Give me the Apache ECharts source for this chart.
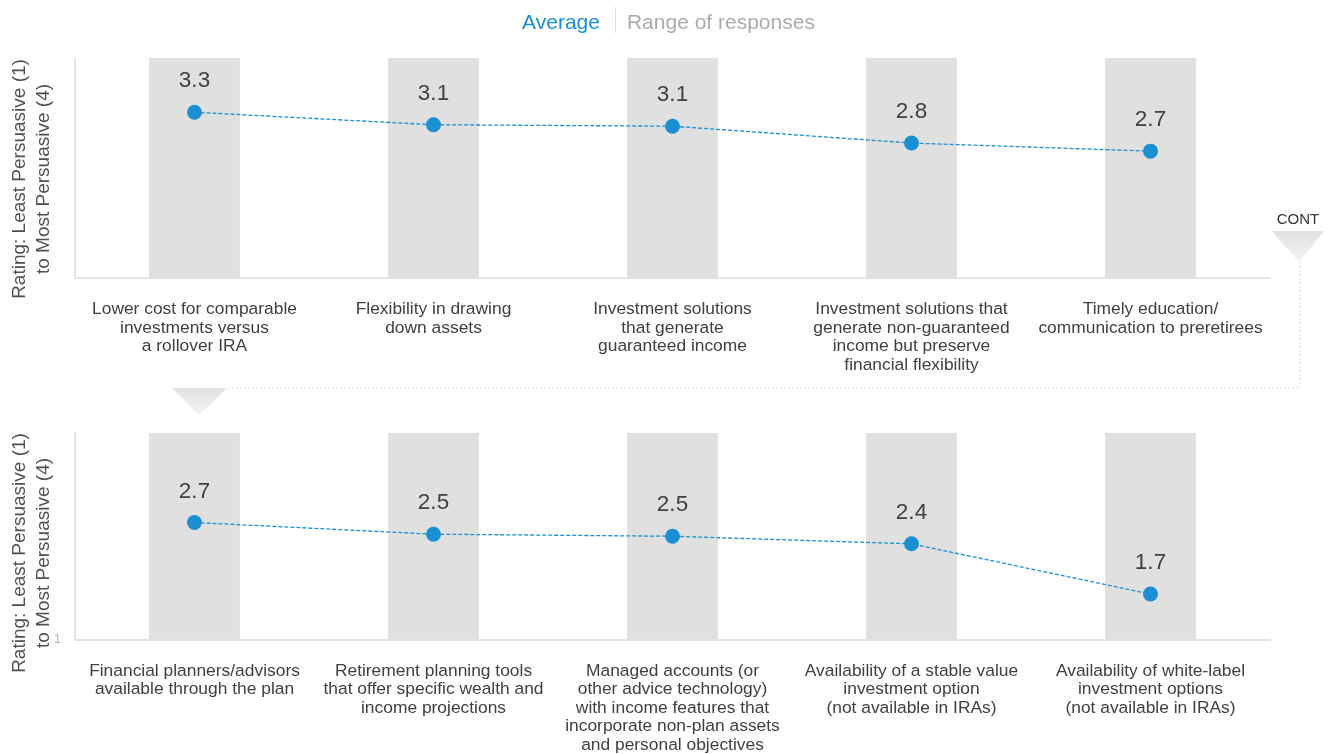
<!DOCTYPE html>
<html>
<head>
<meta charset="utf-8">
<script src="https://cdn.jsdelivr.net/npm/echarts@6/dist/echarts.min.js"></script>
<style>
html,body{margin:0;padding:0;background:#fff;}
#chart{width:1332px;height:754px;}
</style>
</head>
<body>
<div id="chart"></div>
<script>
// ---- data ----
const topCategories = [
  "Lower cost for comparable\ninvestments versus\na rollover IRA",
  "Flexibility in drawing\ndown assets",
  "Investment solutions\nthat generate\nguaranteed income",
  "Investment solutions that\ngenerate non-guaranteed\nincome but preserve\nfinancial flexibility",
  "Timely education/\ncommunication to preretirees"
];
const topAverage = [3.26, 3.09, 3.07, 2.84, 2.73];
const topRangeLow = [1, 1, 1, 1, 1];
const topRangeHigh = [4, 4, 4, 4, 4];

const bottomCategories = [
  "Financial planners/advisors\navailable through the plan",
  "Retirement planning tools\nthat offer specific wealth and\nincome projections",
  "Managed accounts (or\nother advice technology)\nwith income features that\nincorporate non-plan assets\nand personal objectives",
  "Availability of a stable value\ninvestment option\n(not available in IRAs)",
  "Availability of white-label\ninvestment options\n(not available in IRAs)"
];
const bottomAverage = [2.70, 2.53, 2.50, 2.39, 1.66];
const bottomRangeLow = [1, 1, 1, 1, 1];
const bottomRangeHigh = [4, 4, 4, 4, 4];

const yTicks = [1, 4];
const yAxisTitle = "Rating: Least Persuasive (1)\nto Most Persuasive (4)";

// ---- styles ----
const BLUE = '#1b8fd2';
const BAR = '#e0e0e0';
const AXIS = '#e4e4e4';
const TEXT = '#404040';
const FONT = 'Liberation Sans, Arial, Helvetica, sans-serif';

const chart = echarts.init(document.getElementById('chart'));

function xAxisCfg(gridIndex, cats) {
  return {
    type: 'category', gridIndex, data: cats,
    axisLine: { show: true, lineStyle: { color: AXIS, width: 2 } },
    axisTick: { show: false },
    axisLabel: { color: TEXT, fontSize: 17.4, lineHeight: 18.5, fontFamily: FONT, margin: 22, interval: 0 }
  };
}
function yAxisCfg(gridIndex, showLabel) {
  return {
    type: 'value', gridIndex, min: yTicks[0], max: yTicks[yTicks.length - 1], interval: yTicks[1] - yTicks[0],
    axisLine: { show: true, lineStyle: { color: AXIS, width: 2 } },
    axisTick: { show: false },
    splitLine: { show: false },
    axisLabel: {
      show: showLabel, color: '#b5b5b5', fontSize: 13, fontFamily: FONT, margin: 14,
      formatter: v => (v === yTicks[0] ? String(v) : '')
    }
  };
}
function rangeSeries(idx, low, high, stack) {
  return [
    {
      name: 'Range of responses', type: 'bar', xAxisIndex: idx, yAxisIndex: idx, stack,
      data: low.map(v => v), barWidth: '38%', silent: true,
      itemStyle: { color: 'rgba(0,0,0,0)' }
    },
    {
      name: 'Range of responses', type: 'bar', xAxisIndex: idx, yAxisIndex: idx, stack,
      data: high.map((h, i) => h - low[i]), barWidth: '38%',
      itemStyle: { color: BAR }
    }
  ];
}
function avgSeries(idx, data) {
  return {
    name: 'Average', type: 'line', xAxisIndex: idx, yAxisIndex: idx, data, z: 5,
    symbol: 'circle', symbolSize: 15,
    itemStyle: { color: BLUE },
    lineStyle: { color: BLUE, width: 1.3, type: [4, 2] },
    label: {
      show: true, position: 'top', distance: 12, color: TEXT, fontSize: 22.5, fontFamily: FONT,
      formatter: p => p.value.toFixed(1)
    }
  };
}

const option = {
  backgroundColor: '#fff',
  animation: false,
  legend: {
    top: 8, left: 'center', icon: 'none', itemWidth: 0, itemHeight: 0, itemGap: 22,
    selectedMode: false,
    data: [
      { name: 'Average', textStyle: { color: BLUE } },
      { name: 'Range of responses', textStyle: { color: '#ababab' } }
    ],
    textStyle: { fontSize: 21, fontFamily: FONT }
  },
  grid: [
    { left: 75, right: 62, top: 58, height: 220 },
    { left: 75, right: 62, top: 433, height: 208 }
  ],
  xAxis: [xAxisCfg(0, topCategories), xAxisCfg(1, bottomCategories)],
  yAxis: [yAxisCfg(0, false), yAxisCfg(1, true)],
  series: [
    ...rangeSeries(0, topRangeLow, topRangeHigh, 'r0'),
    avgSeries(0, topAverage),
    ...rangeSeries(1, bottomRangeLow, bottomRangeHigh, 'r1'),
    avgSeries(1, bottomAverage)
  ],
  graphic: [
    { type: 'rect', shape: { x: 615, y: 7, width: 1, height: 26 }, style: { fill: '#dddddd' } },
    { type: 'text', x: 32, y: 179, rotation: Math.PI / 2,
      style: { text: yAxisTitle, font: '19px ' + FONT, fill: '#505050', align: 'center', verticalAlign: 'middle', lineHeight: 24 } },
    { type: 'text', x: 32, y: 553, rotation: Math.PI / 2,
      style: { text: yAxisTitle, font: '19px ' + FONT, fill: '#505050', align: 'center', verticalAlign: 'middle', lineHeight: 24 } },
    { type: 'text', x: 1298, y: 220,
      style: { text: 'CONT', font: '15px ' + FONT, fill: '#333', align: 'center', verticalAlign: 'middle' } },
    { type: 'polygon', shape: { points: [[1272, 231], [1324, 231], [1299, 262]] },
      style: { fill: new echarts.graphic.LinearGradient(0, 0, 0, 1, [{ offset: 0, color: '#e2e2e2' }, { offset: 1, color: '#f2f2f2' }]) } },
    { type: 'polyline', shape: { points: [[1300, 262], [1300, 388], [227, 388]] },
      style: { stroke: '#dcdcdc', lineWidth: 1, lineDash: [2, 2], fill: null } },
    { type: 'polygon', shape: { points: [[172, 388], [227, 388], [199, 415]] },
      style: { fill: new echarts.graphic.LinearGradient(0, 0, 0, 1, [{ offset: 0, color: '#e2e2e2' }, { offset: 1, color: '#f2f2f2' }]) } }
  ]
};
chart.setOption(option);
</script>
</body>
</html>
